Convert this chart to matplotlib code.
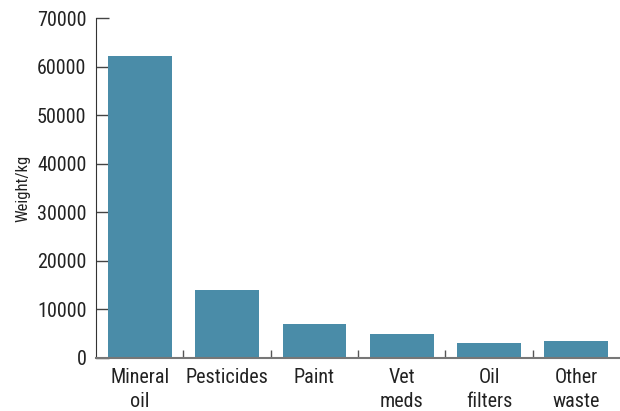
import matplotlib.pyplot as plt
import numpy as np

# waste categories and weights
categories = ["Mineral\noil", "Pesticides", "Paint", "Vet\nmeds", "Oil\nfilters", "Other\nwaste"]
weights = [62200, 14100, 7100, 4900, 3000, 3600]
yticks = [0, 10000, 20000, 30000, 40000, 50000, 60000, 70000]

plt.rcParams['font.family'] = ['Liberation Sans Narrow', 'Roboto Condensed', 'Liberation Sans', 'DejaVu Sans']

fig = plt.figure(figsize=(6.2, 4.11), dpi=100)
ax = fig.add_axes([0.155, 0.129, 0.845, 0.827])

x = np.arange(len(categories))
ax.bar(x, weights, width=0.73, color="#4a8ca8", zorder=2)

ax.set_xlim(-0.5, len(categories) - 0.5)
ax.set_ylim(0, 70000)
ax.set_yticks(yticks)
ax.set_yticklabels([str(v) for v in yticks])
ax.set_xticks(x)
ax.set_xticklabels(categories, linespacing=1.35)
ax.set_xticks(x[:-1] + 0.5, minor=True)

ax.tick_params(axis='y', direction='in', length=9, width=1, color="#444444",
               labelsize=14.5, pad=7, labelcolor="#222222")
ax.tick_params(axis='x', which='major', length=0, labelsize=14.5, pad=7,
               labelcolor="#222222")
ax.tick_params(axis='x', which='minor', direction='in', length=6, width=1,
               color="#555555")

for side in ['top', 'right']:
    ax.spines[side].set_visible(False)
ax.spines['left'].set_color("#333333")
ax.spines['bottom'].set_color("#777777")
ax.spines['bottom'].set_linewidth(1.5)

ax.set_ylabel("Weight/kg", fontsize=12, labelpad=5, color="#222222")

fig.savefig("out.png", dpi=100)
